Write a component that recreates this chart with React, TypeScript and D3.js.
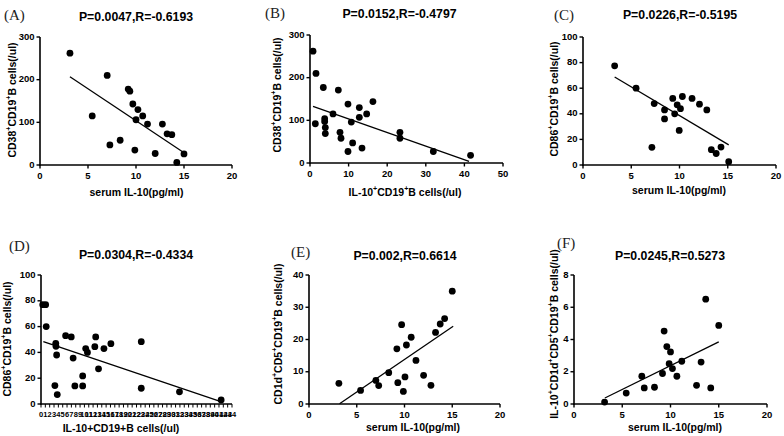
import React from 'react';
import * as d3 from 'd3';

// ---------- data ----------
const aX = [3.12, 5.44, 7.0, 7.28, 8.35, 9.19, 9.36, 9.67, 9.88, 10.0, 10.2, 10.7, 11.2, 12.0, 12.75, 13.24, 13.73, 14.25, 15.0];
const aY = [262, 115, 210, 47, 58, 178, 173, 143, 35, 106, 130, 115, 96, 27, 96, 73, 71, 6, 26];
const aLineX = [3.12, 14.85];
const aLineY = [207, 31];

const bX = [0.78, 1.55, 1.38, 3.45, 3.8, 3.8, 3.97, 3.97, 5.96, 7.34, 7.77, 8.03, 9.84, 9.84, 10.7, 11.05, 12.78, 12.78, 13.47, 14.68, 16.3, 23.3, 23.3, 31.95, 41.6];
const bY = [262, 210, 92, 177, 104, 97, 83, 69, 115, 171, 72, 58, 138, 27, 96, 47, 130, 107, 35, 115, 144, 72, 58, 27, 18];
const bLineX = [0.78, 41.2];
const bLineY = [132.5, 4];

const cX = [3.28, 5.5, 7.14, 7.38, 8.45, 8.45, 9.3, 9.5, 9.76, 9.97, 10.1, 10.3, 11.3, 12.07, 12.83, 13.3, 13.8, 14.3, 15.1];
const cY = [77.5, 60, 13.8, 48, 43, 36, 52, 40, 47, 27, 44, 53.5, 52, 47.5, 43, 12, 9, 14, 2.6];
const cLineX = [3.28, 15.1];
const cLineY = [68.7, 15.7];

const dX = [0.4, 1.07, 1.2, 3.4, 3.45, 3.6, 3.2, 3.75, 5.67, 6.97, 7.4, 7.8, 9.6, 9.6, 10.3, 10.7, 12.6, 12.4, 13.25, 14.5, 16.1, 23.1, 23.1, 31.9, 41.5];
const dY = [77, 77, 60, 47, 44.7, 38, 14.3, 7.3, 53, 52, 35.6, 14, 21.8, 14, 43, 40, 52, 44.4, 27.3, 43, 46.8, 48.3, 12.2, 9.4, 3.1];
const dLineX = [0.54, 41.1];
const dLineY = [48.3, 2.3];

const eX = [3.13, 5.4, 7.0, 7.3, 8.35, 9.2, 9.3, 9.7, 9.88, 10.05, 10.2, 10.7, 11.2, 12.0, 12.77, 13.25, 13.74, 14.2, 15.0];
const eY = [6.4, 4.2, 7.3, 5.7, 9.7, 17.1, 6.6, 24.6, 3.9, 8.4, 18.3, 20.7, 13.5, 8.9, 5.8, 22.2, 24.8, 26.5, 35];
const eLineX = [3.2, 15.1];
const eLineY = [0.1, 24.1];

const fX = [3.17, 5.41, 7.03, 7.28, 8.34, 9.17, 9.34, 9.62, 10.0, 9.86, 10.2, 10.66, 11.17, 12.7, 13.17, 13.65, 14.17, 15.0];
const fY = [0.12, 0.68, 1.72, 1.0, 1.04, 1.89, 4.52, 3.56, 3.23, 2.5, 2.2, 1.72, 2.65, 1.16, 2.6, 6.5, 1.0, 4.87];
const fLineX = [3.2, 15.0];
const fLineY = [0.37, 3.85];

const ticksSerum = [0, 5, 10, 15, 20];
const ticksB = [0, 10, 20, 30, 40, 50];
const ticksD = d3.range(0, 45);
const ticks300 = [0, 100, 200, 300];
const ticks100 = [0, 20, 40, 60, 80, 100];
const ticks40 = [0, 10, 20, 30, 40];
const ticks8 = [0, 2, 4, 6, 8];

type Part = [string, boolean];

const FONT = 'Liberation Sans, Arial, sans-serif';

function RichText({ parts, x, y, rotate, size }: { parts: Part[]; x: number; y: number; rotate?: boolean; size: number }) {
  const supSize = size * 0.68;
  const out: React.ReactNode[] = [];
  let prevSup = false;
  parts.forEach(([t, sup], i) => {
    let dy = 0;
    if (sup && !prevSup) dy = -size * 0.38;
    if (!sup && prevSup) dy = size * 0.38;
    out.push(
      <tspan key={i} dy={dy} fontSize={sup ? supSize : size}>{t}</tspan>
    );
    prevSup = sup;
  });
  return (
    <text
      x={x}
      y={y}
      textAnchor="middle"
      dominantBaseline="middle"
      fontFamily={FONT}
      fontWeight="bold"
      fontSize={size}
      transform={rotate ? `rotate(-90 ${x} ${y})` : undefined}
    >
      {out}
    </text>
  );
}

interface PanelProps {
  x0: number; x1: number; yTop: number; yBot: number;
  xDomain: [number, number]; yDomain: [number, number];
  xTicks: number[]; yTicks: number[];
  xs: number[]; ys: number[];
  lineX: number[]; lineY: number[];
  title: string; titleX: number; titleY: number;
  tag: string; tagX: number; tagY: number;
  xLabel: Part[]; xLabelX: number; xLabelY: number;
  yLabel: Part[]; yLabelX: number; yLabelY: number;
  xTickSize?: number;
}

function Panel(p: PanelProps) {
  const xS = d3.scaleLinear().domain(p.xDomain).range([p.x0, p.x1]);
  const yS = d3.scaleLinear().domain(p.yDomain).range([p.yBot, p.yTop]);
  const line = d3.line<number>().x((d) => xS(p.lineX[d])).y((d) => yS(p.lineY[d]));
  const tickLen = 3.5;
  const xtSize = p.xTickSize ?? 9.5;
  return (
    <g>
      <text x={p.tagX} y={p.tagY} fontFamily="Liberation Serif, Times New Roman, serif" fontSize={15} fill="#222">{p.tag}</text>
      <text x={p.titleX} y={p.titleY} textAnchor="middle" dominantBaseline="middle" fontFamily={FONT} fontWeight="bold" fontSize={12.3}>{p.title}</text>
      {/* axes */}
      <line x1={p.x0} x2={p.x0} y1={p.yTop} y2={p.yBot + 0.8} stroke="#000" strokeWidth={1.6} />
      <line x1={p.x0 - 0.8} x2={p.x1} y1={p.yBot} y2={p.yBot} stroke="#000" strokeWidth={1.6} />
      {p.yTicks.map((t) => (
        <g key={'y' + t}>
          <line x1={p.x0 - tickLen} x2={p.x0} y1={yS(t)} y2={yS(t)} stroke="#000" strokeWidth={1.4} />
          <text x={p.x0 - 5.5} y={yS(t)} textAnchor="end" dominantBaseline="middle" fontFamily={FONT} fontWeight="bold" fontSize={9.5}>{t}</text>
        </g>
      ))}
      {p.xTicks.map((t) => (
        <g key={'x' + t}>
          <line x1={xS(t)} x2={xS(t)} y1={p.yBot} y2={p.yBot + tickLen} stroke="#000" strokeWidth={p.xTickSize ? 1 : 1.4} />
          <text x={xS(t)} y={p.yBot + 11} textAnchor="middle" dominantBaseline="middle" fontFamily={FONT} fontWeight="bold" fontSize={xtSize}>{t}</text>
        </g>
      ))}
      <path d={line([0, 1]) || ''} stroke="#000" strokeWidth={1.3} fill="none" />
      {p.xs.map((x, i) => (
        <circle key={i} cx={xS(x)} cy={yS(p.ys[i])} r={3.4} fill="#000" />
      ))}
      <RichText parts={p.xLabel} x={p.xLabelX} y={p.xLabelY} size={10.5} />
      <RichText parts={p.yLabel} x={p.yLabelX} y={p.yLabelY} size={10.5} rotate />
    </g>
  );
}

const serumLabel: Part[] = [['serum IL-10(pg/ml)', false]];

export default function App() {
  return (
    <svg width={784} height={436} style={{ position: 'absolute', left: 0, top: 0, background: '#fff' }}>
      <rect width={784} height={436} fill="#fff" />
      <Panel
        x0={40} x1={232} yTop={37} yBot={165}
        xDomain={[0, 20]} yDomain={[0, 300]} xTicks={ticksSerum} yTicks={ticks300}
        xs={aX} ys={aY} lineX={aLineX} lineY={aLineY}
        title="P=0.0047,R=-0.6193" titleX={136} titleY={17.3}
        tag="(A)" tagX={4} tagY={20}
        xLabel={serumLabel} xLabelX={136.5} xLabelY={192.7}
        yLabel={[['CD38', false], ['+', true], ['CD19', false], ['+', true], ['B cells(/ul)', false]]} yLabelX={13} yLabelY={100}
      />
      <Panel
        x0={310} x1={503} yTop={35} yBot={163}
        xDomain={[0, 50]} yDomain={[0, 300]} xTicks={ticksB} yTicks={ticks300}
        xs={bX} ys={bY} lineX={bLineX} lineY={bLineY}
        title="P=0.0152,R=-0.4797" titleX={399.5} titleY={15}
        tag="(B)" tagX={265} tagY={18}
        xLabel={[['IL-10', false], ['+', true], ['CD19', false], ['+', true], ['B cells(/ul)', false]]} xLabelX={405} xLabelY={192.7}
        yLabel={[['CD38', false], ['+', true], ['CD19', false], ['+', true], ['B cells(/ul)', false]]} yLabelX={278} yLabelY={95}
      />
      <Panel
        x0={583} x1={776} yTop={37} yBot={165}
        xDomain={[0, 20]} yDomain={[0, 100]} xTicks={ticksSerum} yTicks={ticks100}
        xs={cX} ys={cY} lineX={cLineX} lineY={cLineY}
        title="P=0.0226,R=-0.5195" titleX={680} titleY={15.7}
        tag="(C)" tagX={554} tagY={20}
        xLabel={serumLabel} xLabelX={679} xLabelY={190.7}
        yLabel={[['CD86', false], ['+', true], ['CD19', false], ['+', true], ['B cells(/ul)', false]]} yLabelX={555} yLabelY={99}
      />
      <Panel
        x0={41} x1={232} yTop={275} yBot={404}
        xDomain={[0, 44]} yDomain={[0, 100]} xTicks={ticksD} yTicks={ticks100}
        xs={dX} ys={dY} lineX={dLineX} lineY={dLineY}
        title="P=0.0304,R=-0.4334" titleX={136} titleY={255.7}
        tag="(D)" tagX={9} tagY={251}
        xLabel={[['IL-10+CD19+B cells(/ul)', false]]} xLabelX={121} xLabelY={428.7}
        yLabel={[['CD86', false], ['+', true], ['CD19', false], ['+', true], ['B cells(/ul)', false]]} yLabelX={8} yLabelY={339}
        xTickSize={7.5}
      />
      <Panel
        x0={309} x1={500} yTop={275} yBot={404}
        xDomain={[0, 20]} yDomain={[0, 40]} xTicks={ticksSerum} yTicks={ticks40}
        xs={eX} ys={eY} lineX={eLineX} lineY={eLineY}
        title="P=0.002,R=0.6614" titleX={405} titleY={257}
        tag="(E)" tagX={291} tagY={257}
        xLabel={serumLabel} xLabelX={413} xLabelY={428}
        yLabel={[['CD1d', false], ['+', true], ['CD5', false], ['+', true], ['CD19', false], ['+', true], ['B cells(/ul)', false]]} yLabelX={279} yLabelY={334}
      />
      <Panel
        x0={574} x1={767} yTop={275} yBot={404}
        xDomain={[0, 20]} yDomain={[0, 8]} xTicks={ticksSerum} yTicks={ticks8}
        xs={fX} ys={fY} lineX={fLineX} lineY={fLineY}
        title="P=0.0245,R=0.5273" titleX={670} titleY={256.3}
        tag="(F)" tagX={557} tagY={248}
        xLabel={serumLabel} xLabelX={675} xLabelY={428}
        yLabel={[['IL-10', false], ['+', true], ['CD1d', false], ['+', true], ['CD5', false], ['+', true], ['CD19', false], ['+', true], ['B cells(/ul)', false]]} yLabelX={555} yLabelY={334}
      />
    </svg>
  );
}
